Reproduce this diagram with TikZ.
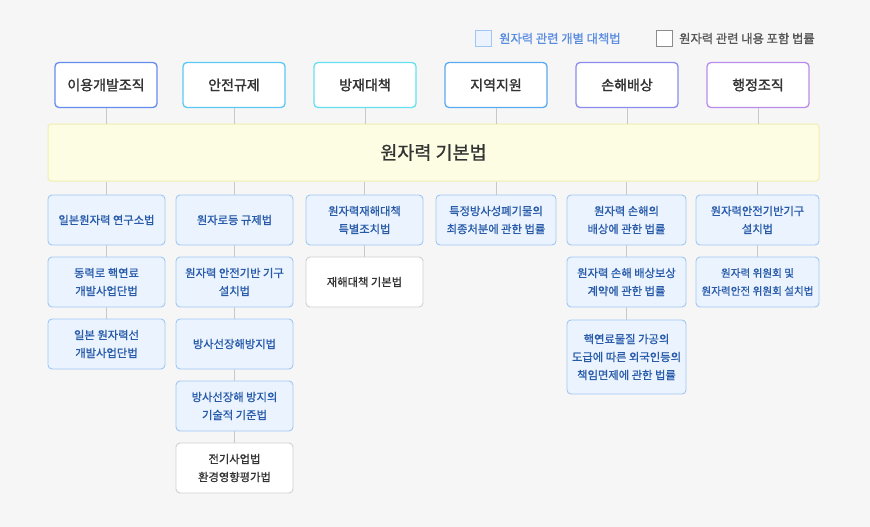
\documentclass[tikz,border=0pt]{standalone}
\usepackage{fontspec}
\setmainfont{Noto Sans CJK KR}
\newfontfamily\medfont{Noto Sans CJK KR}[FakeBold=0.9]
\newfontfamily\semifont{Noto Sans CJK KR}[FakeBold=1.6]
\usetikzlibrary{positioning}
\definecolor{pageBg}{RGB}{246,246,246}
\definecolor{linkGray}{RGB}{200,200,200}
\definecolor{headText}{RGB}{51,51,51}
\definecolor{headA}{RGB}{100,140,240}
\definecolor{headB}{RGB}{90,200,245}
\definecolor{headC}{RGB}{100,225,240}
\definecolor{headD}{RGB}{90,170,240}
\definecolor{headE}{RGB}{140,140,240}
\definecolor{headF}{RGB}{185,140,235}
\definecolor{baseFill}{RGB}{253,253,228}
\definecolor{baseBorder}{RGB}{240,238,176}
\definecolor{lawFill}{RGB}{234,243,254}
\definecolor{lawBorder}{RGB}{160,198,245}
\definecolor{lawText}{RGB}{40,90,170}
\definecolor{keyText}{RGB}{90,140,225}
\definecolor{keyGray}{RGB}{85,85,85}
\definecolor{otherBorder}{RGB}{208,208,208}
\definecolor{otherText}{RGB}{51,51,51}

\begin{document}
\begin{tikzpicture}[
  x=1pt, y=-1pt,
  head/.style={draw, fill=white, rounded corners=4pt, line width=1.3pt,
    minimum width=102pt, minimum height=45pt, inner sep=0pt,
    text=headText, font=\semifont\fontsize{14}{16}\selectfont},
  law/.style={draw=lawBorder, fill=lawFill, text=lawText, rounded corners=4pt,
    line width=0.9pt, minimum width=117pt, minimum height=50pt, inner sep=0pt,
    align=center, font=\medfont\fontsize{11.3}{18}\selectfont},
  other/.style={law, draw=otherBorder, fill=white, text=otherText},
  link/.style={draw=linkGray, line width=1pt},
  keybox/.style={draw, line width=1pt, minimum size=16pt, inner sep=0pt}
]
  \fill[pageBg] (0,0) rectangle (870,527);
  \useasboundingbox (0,0) rectangle (870,527);

  % legend
  \node[keybox, draw=lawBorder, fill=lawFill] (keyA) at (483,38.5) {};
  \node[anchor=west, text=keyText, font=\medfont\fontsize{12.3}{14}\selectfont, inner sep=0pt]
    (keyAtxt) at (499,38.5) {원자력 관련 개별 대책법};
  \node[keybox, draw=gray!90, fill=white] (keyB) at (664,38.5) {};
  \node[anchor=west, text=keyGray, font=\medfont\fontsize{12.3}{14}\selectfont, inner sep=0pt]
    (keyBtxt) at (679,38.5) {원자력 관련 내용 포함 법률};

  % fields
  \node[head, draw=headA] (h1) at (106,85) {이용개발조직};
  \node[head, draw=headB] (h2) at (234,85) {안전규제};
  \node[head, draw=headC] (h3) at (365,85) {방재대책};
  \node[head, draw=headD] (h4) at (496,85) {지역지원};
  \node[head, draw=headE] (h5) at (627,85) {손해배상};
  \node[head, draw=headF] (h6) at (758,85) {행정조직};

  % basic act
  \node[draw=baseBorder, fill=baseFill, line width=1pt, rounded corners=3pt,
    minimum width=771pt, minimum height=57pt, text=headText,
    font=\medfont\fontsize{18.5}{20}\selectfont] (basic) at (433.5,152.5) {원자력 기본법};

  % laws by field
  \node[law] (c1a) at (106.5,220) {일본원자력 연구소법};
  \node[law] (c1b) at (106.5,282) {동력로 핵연료\\개발사업단법};
  \node[law] (c1c) at (106.5,344) {일본 원자력선\\개발사업단법};

  \node[law] (c2a) at (234.5,220) {원자로등 규제법};
  \node[law] (c2b) at (234.5,282) {원자력 안전기반 기구\\설치법};
  \node[law] (c2c) at (234.5,344) {방사선장해방지법};
  \node[law] (c2d) at (234.5,406) {방사선장해 방지의\\기술적 기준법};
  \node[other] (c2e) at (234.5,468) {전기사업법\\환경영향평가법};

  \node[law] (c3a) at (364.5,220) {원자력재해대책\\특별조치법};
  \node[other] (c3b) at (364.5,282) {재해대책 기본법};

  \node[law, minimum width=120pt] (c4a) at (496,220) {특정방사성폐기물의\\최종처분에 관한 법률};

  \node[law, minimum width=119pt] (c5a) at (626.5,220) {원자력 손해의\\배상에 관한 법률};
  \node[law, minimum width=119pt] (c5b) at (626.5,282) {원자력 손해 배상보상\\계약에 관한 법률};
  \node[law, minimum width=119pt, minimum height=74pt] (c5c) at (626.5,357)
    {핵연료물질 가공의\\도급에 따른 외국인등의\\책임면제에 관한 법률};

  \node[law, minimum width=123pt] (c6a) at (757.5,220) {원자력안전기반기구\\설치법};
  \node[law, minimum width=123pt, font=\medfont\fontsize{10.6}{18}\selectfont] (c6b)
    at (757.5,282) {원자력 위원회 및\\원자력안전 위원회 설치법};

  % links
  \foreach \h in {h1,h2,h3,h4,h5,h6}
    \draw[link] (\h) -- (\h |- basic.north);
  \foreach \c in {c1a,c2a,c3a,c4a,c5a,c6a}
    \draw[link] (basic.south -| \c) -- (\c);
  \draw[link] (c1a) -- (c1b);
  \draw[link] (c1b) -- (c1c);
  \draw[link] (c2a) -- (c2b);
  \draw[link] (c2b) -- (c2c);
  \draw[link] (c2c) -- (c2d);
  \draw[link] (c2d) -- (c2e);
  \draw[link] (c3a) -- (c3b);
  \draw[link] (c5a) -- (c5b);
  \draw[link] (c5b) -- (c5c);
  \draw[link] (c6a) -- (c6b);
\end{tikzpicture}
\end{document}
